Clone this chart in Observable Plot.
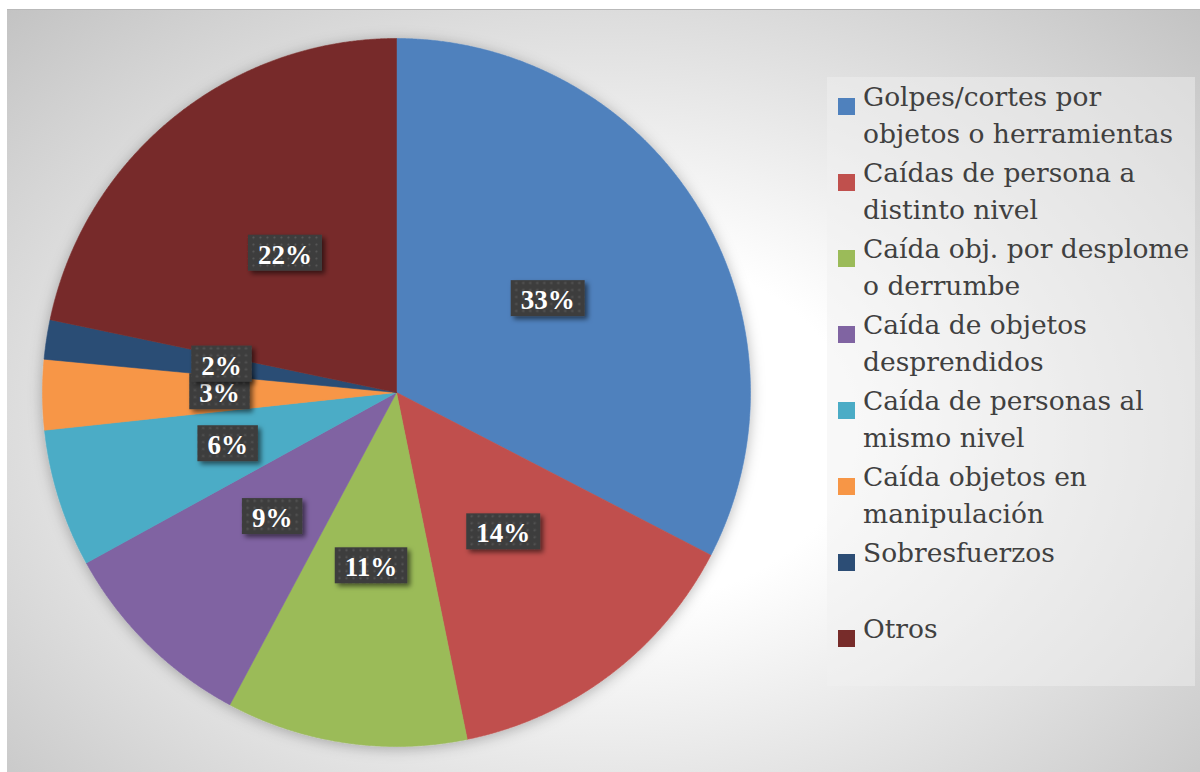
<!DOCTYPE html>
<html>
<head>
<meta charset="utf-8">
<script src="https://cdn.jsdelivr.net/npm/d3@7"></script>
<script src="https://cdn.jsdelivr.net/npm/@observablehq/plot@0.6"></script>
<style>
  html, body { margin: 0; padding: 0; background: #ffffff; }
  #wrap { position: relative; width: 1200px; height: 772px; overflow: hidden; background: #fff; }
  #bg { position: absolute; left: 7px; top: 9px; width: 1193px; height: 763px;
        background: radial-gradient(ellipse farthest-corner at 50% 55%, #ffffff 30%, #c3c3c3 100%);
        border-top: 1px solid #b9b9b9; box-sizing: border-box; }
  #chart { position: absolute; left: 0; top: 0; }
  #legend { position: absolute; left: 827px; top: 77px; width: 368px; height: 609px;
            background: rgba(240,240,240,0.48); box-sizing: border-box; padding-top: 1px;
            font-family: "DejaVu Serif", serif; font-size: 26.5px; color: #404040; }
  .item { display: flex; align-items: flex-start; margin-bottom: 2px; }
  .sw { width: 17px; height: 17px; margin-left: 11px; margin-right: 8px; margin-top: 20px; flex: none; }
  .lab { line-height: 37px; white-space: pre; }
</style>
</head>
<body>
<div id="wrap">
  <div id="bg"></div>
  <div id="chart"></div>
  <div id="legend"></div>
</div>
<script>
const categories = [
  "Golpes/cortes por objetos o herramientas",
  "Caídas de persona a distinto nivel",
  "Caída obj. por desplome o derrumbe",
  "Caída de objetos desprendidos",
  "Caída de personas al mismo nivel",
  "Caída objetos en manipulación",
  "Sobresfuerzos",
  "Otros"
];
const values = [32.6, 14.2, 11.0, 9.2, 6.3, 3.2, 1.8, 21.7];
const colors = ["#4f81bd", "#c0504d", "#9bbb59", "#8064a2", "#4bacc6", "#f79646", "#2c4d75", "#772c2a"];
const legendLabels = [
  "Golpes/cortes por\nobjetos o herramientas",
  "Caídas de persona a\ndistinto nivel",
  "Caída obj. por desplome\no derrumbe",
  "Caída de objetos\ndesprendidos",
  "Caída de personas al\nmismo nivel",
  "Caída objetos en\nmanipulación",
  "Sobresfuerzos\n ",
  "Otros"
];

const arcs = d3.pie().sort(null)(values);

// wedge outlines in data space (unit circle), derived from the pie layout
const wedgePts = arcs.flatMap((a, i) => {
  const category = categories[i];
  const n = Math.max(2, Math.ceil((a.endAngle - a.startAngle) / 0.004));
  const pts = [{x: 0, y: 0, category}];
  for (let k = 0; k <= n; k++) {
    const t = a.startAngle + (a.endAngle - a.startAngle) * k / n;
    pts.push({x: Math.sin(t), y: Math.cos(t), category});
  }
  pts.push({x: 0, y: 0, category});
  return pts;
});

const labelData = arcs.map((a, i) => {
  const mid = (a.startAngle + a.endAngle) / 2;
  return {x: 0.5 * Math.sin(mid), y: 0.5 * Math.cos(mid), text: Math.round(values[i]) + "%", category: categories[i]};
});

const plot = Plot.plot({
  width: 1200,
  height: 772,
  margin: 0,
  style: {background: "transparent", overflow: "visible"},
  x: {domain: [-1, 1], range: [42, 750], axis: null},
  y: {domain: [-1, 1], range: [746, 38], axis: null},
  color: {domain: categories, range: colors},
  marks: [
    Plot.line(wedgePts, {x: "x", y: "y", z: "category", fill: "category", stroke: "category", strokeWidth: 0.6, curve: "linear"}),
    Plot.text(labelData, {x: "x", y: "y", text: "text", fill: "white", fontSize: 27, fontWeight: "bold", fontFamily: "Liberation Serif"})
  ]
});

document.getElementById("chart").appendChild(plot);

// defs: dotted label pattern and shadows
const svg = d3.select(plot);
const defs = svg.insert("defs", ":first-child");
const pat = defs.append("pattern").attr("id", "dots").attr("patternUnits", "userSpaceOnUse")
  .attr("width", 7).attr("height", 7);
pat.append("rect").attr("width", 7).attr("height", 7).attr("fill", "#3e3e3e");
pat.append("circle").attr("cx", 3.5).attr("cy", 3.5).attr("r", 1.1).attr("fill", "#575757");
const f1 = defs.append("filter").attr("id", "lblShadow").attr("x", "-30%").attr("y", "-30%").attr("width", "160%").attr("height", "160%");
f1.append("feDropShadow").attr("dx", 3).attr("dy", 3).attr("stdDeviation", 2.5).attr("flood-color", "#000").attr("flood-opacity", 0.55);
const f2 = defs.append("filter").attr("id", "pieShadow").attr("x", "-10%").attr("y", "-10%").attr("width", "120%").attr("height", "120%");
f2.append("feDropShadow").attr("dx", 0).attr("dy", 2).attr("stdDeviation", 7).attr("flood-color", "#000").attr("flood-opacity", 0.28);

svg.selectAll("g[aria-label='line']").attr("filter", "url(#pieShadow)");

svg.selectAll("g[aria-label='text'] text").each(function() {
  const b = this.getBBox();
  const padX = 10, padTop = 5, padBottom = 1;
  const r = document.createElementNS("http://www.w3.org/2000/svg", "rect");
  r.setAttribute("x", b.x - padX);
  r.setAttribute("y", b.y - padTop);
  r.setAttribute("width", b.width + 2 * padX);
  r.setAttribute("height", b.height + padTop + padBottom);
  r.setAttribute("fill", "url(#dots)");
  r.setAttribute("filter", "url(#lblShadow)");
  const tr = this.getAttribute("transform");
  if (tr) r.setAttribute("transform", tr);
  this.parentNode.insertBefore(r, this);
});

// legend
const legend = d3.select("#legend");
categories.forEach((c, i) => {
  const it = legend.append("div").attr("class", "item");
  it.append("div").attr("class", "sw").style("background", colors[i]);
  it.append("div").attr("class", "lab").text(legendLabels[i]);
});
</script>
</body>
</html>
